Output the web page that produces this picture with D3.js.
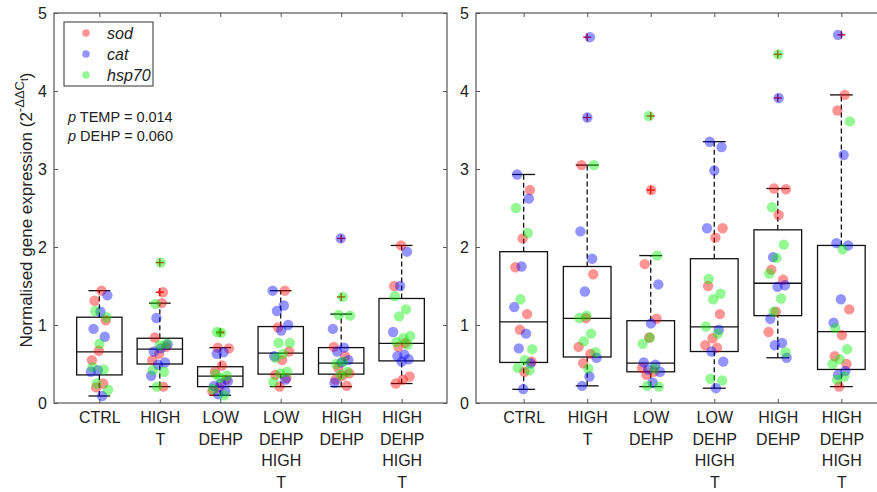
<!DOCTYPE html>
<html>
<head>
<meta charset="utf-8">
<script src="https://cdn.jsdelivr.net/npm/d3@7"></script>
<style>
  html, body { margin: 0; padding: 0; background: #fff; }
  svg { display: block; font-family: Arial, "Liberation Sans", sans-serif; }
</style>
</head>
<body>
<svg id="chart" width="877" height="492"></svg>
<script>
// Treatment groups (x axis), one box per group
const categories = ["CTRL", "HIGH T", "LOW DEHP", "LOW DEHP HIGH T", "HIGH DEHP", "HIGH DEHP HIGH T"];
const genes = ["sod", "cat", "hsp70"];
const yTicks = [0, 1, 2, 3, 4, 5];

// Left panel: expression values per group
const leftSod = [
  [1.44, 1.31, 1.06, 0.67, 0.55, 0.25, 0.20],
  [1.42, 1.28, 0.84, 0.72, 0.63, 0.55, 0.21],
  [0.71, 0.70, 0.48, 0.40, 0.30, 0.20, 0.15],
  [1.44, 0.97, 0.66, 0.55, 0.36, 0.32, 0.21],
  [0.72, 0.60, 0.45, 0.38, 0.35, 0.30, 0.22],
  [2.02, 1.50, 0.77, 0.72, 0.34, 0.30, 0.25]
];
const leftCat = [
  [1.38, 1.17, 0.95, 0.85, 0.42, 0.40, 0.09],
  [1.09, 0.75, 0.70, 0.66, 0.52, 0.49, 0.35],
  [0.65, 0.63, 0.28, 0.25, 0.22, 0.15, 0.11],
  [1.44, 1.25, 1.18, 1.00, 0.93, 0.60, 0.30],
  [2.11, 0.95, 0.71, 0.66, 0.55, 0.52, 0.26],
  [1.94, 1.50, 0.91, 0.62, 0.60, 0.56, 0.53]
];
const leftHsp70 = [
  [1.18, 1.10, 0.76, 0.46, 0.43, 0.25, 0.17],
  [1.80, 1.27, 0.76, 0.74, 0.42, 0.40, 0.21],
  [0.91, 0.90, 0.37, 0.35, 0.32, 0.18, 0.10],
  [0.77, 0.77, 0.63, 0.58, 0.40, 0.38, 0.27],
  [1.36, 1.13, 1.12, 0.53, 0.50, 0.40, 0.36],
  [1.37, 1.20, 1.11, 0.86, 0.83, 0.78, 0.75]
];
// Left panel box statistics
const leftWhiskerHi = [1.44, 1.28, 0.71, 1.44, 1.14, 2.02];
const leftQ3 = [1.10, 0.83, 0.465, 0.98, 0.71, 1.34];
const leftMedian = [0.655, 0.69, 0.345, 0.64, 0.51, 0.765];
const leftQ1 = [0.36, 0.50, 0.21, 0.37, 0.37, 0.54];
const leftWhiskerLo = [0.09, 0.21, 0.10, 0.21, 0.21, 0.25];

// Right panel: expression values per group
const rightSod = [
  [2.73, 2.11, 1.74, 1.14, 0.94, 0.53, 0.40],
  [3.05, 1.65, 1.09, 0.72, 0.63, 0.51],
  [2.73, 1.78, 1.08, 0.84, 0.45, 0.40, 0.36],
  [2.24, 2.12, 1.50, 1.14, 0.83, 0.74, 0.71],
  [2.75, 2.74, 2.41, 1.71, 1.58, 1.17, 0.91],
  [3.95, 3.75, 1.20, 0.87, 0.60, 0.50, 0.21]
];
const rightCat = [
  [2.93, 2.62, 1.75, 1.23, 0.89, 0.70, 0.51, 0.18],
  [4.69, 3.66, 2.20, 1.85, 1.43, 0.58, 0.34, 0.22],
  [1.52, 1.02, 0.52, 0.49, 0.43, 0.40, 0.26],
  [3.35, 3.28, 2.98, 2.24, 0.94, 0.66, 0.53, 0.19],
  [3.91, 1.87, 1.51, 1.49, 1.08, 0.77, 0.74, 0.58],
  [4.72, 3.18, 2.05, 2.02, 1.33, 1.03, 0.41, 0.36]
];
const rightHsp70 = [
  [2.50, 2.18, 1.33, 0.69, 0.55, 0.45, 0.42],
  [3.05, 1.12, 1.09, 0.89, 0.79, 0.65, 0.44],
  [3.68, 1.89, 0.84, 0.76, 0.44, 0.22, 0.21],
  [1.59, 1.40, 1.33, 0.98, 0.89, 0.31, 0.29],
  [4.47, 2.51, 2.03, 1.86, 1.66, 1.34, 1.17, 0.65],
  [3.61, 1.97, 0.96, 0.69, 0.56, 0.50, 0.34, 0.30]
];
// Right panel box statistics
const rightWhiskerHi = [2.93, 3.05, 1.89, 3.35, 2.75, 3.95];
const rightQ3 = [1.94, 1.75, 1.055, 1.85, 2.22, 2.02];
const rightMedian = [1.04, 1.085, 0.51, 0.975, 1.535, 0.915];
const rightQ1 = [0.52, 0.59, 0.40, 0.66, 1.12, 0.43];
const rightWhiskerLo = [0.175, 0.22, 0.21, 0.19, 0.58, 0.21];

const geneColors = { sod: "#ff0000", cat: "#0000ff", hsp70: "#00ee00" };
const dotOpacity = 0.42;

const svg = d3.select("#chart");
const fontStack = 'Arial, "Liberation Sans", sans-serif';
const axisColor = "#555";

const y = d3.scaleLinear().domain([0, 5]).range([403, 13]);

const panels = [
  { x0: 54, x1: 447, genes: [leftSod, leftCat, leftHsp70],
    hi: leftWhiskerHi, q3: leftQ3, med: leftMedian, q1: leftQ1, lo: leftWhiskerLo },
  { x0: 476, x1: 889, genes: [rightSod, rightCat, rightHsp70],
    hi: rightWhiskerHi, q3: rightQ3, med: rightMedian, q1: rightQ1, lo: rightWhiskerLo }
];

function drawPanel(p, pi) {
  const x = d3.scaleLinear().domain([0.25, 6.75]).range([p.x0, p.x1]);
  const unit = x(1) - x(0);
  const g = svg.append("g");

  // frame
  g.append("rect")
    .attr("x", p.x0).attr("y", y(5))
    .attr("width", p.x1 - p.x0).attr("height", y(0) - y(5))
    .attr("fill", "none").attr("stroke", axisColor).attr("stroke-width", 1.2);

  // y axis (ticks pointing inward)
  const yAxis = g.append("g").attr("transform", `translate(${p.x0},0)`)
    .call(d3.axisLeft(y).tickValues(yTicks).tickFormat(d3.format("d"))
      .tickSize(-4).tickSizeOuter(0).tickPadding(7));
  yAxis.select(".domain").remove();
  yAxis.selectAll("line").attr("stroke", axisColor);
  yAxis.selectAll("text").attr("font-size", 16).attr("font-family", fontStack).attr("fill", "#222");

  const yAxisR = g.append("g").attr("transform", `translate(${p.x1},0)`)
    .call(d3.axisRight(y).tickValues(yTicks).tickFormat("").tickSize(-4).tickSizeOuter(0));
  yAxisR.select(".domain").remove();
  yAxisR.selectAll("line").attr("stroke", axisColor);

  // x axis with multi-line group labels
  const xAxis = g.append("g").attr("transform", `translate(0,${y(0)})`)
    .call(d3.axisBottom(x).tickValues([1, 2, 3, 4, 5, 6])
      .tickFormat(d => categories[d - 1]).tickSize(-4).tickSizeOuter(0).tickPadding(8));
  xAxis.select(".domain").remove();
  xAxis.selectAll("line").attr("stroke", axisColor);
  xAxis.selectAll("text").each(function (d) {
    const t = d3.select(this).text("").attr("font-size", 16)
      .attr("font-family", fontStack).attr("fill", "#222").attr("dy", null).attr("y", 0);
    categories[d - 1].split(" ").forEach((w, i) => {
      t.append("tspan").attr("x", 0).attr("y", 20 + i * 21.7).text(w);
    });
  });

  const xAxisT = g.append("g").attr("transform", `translate(0,${y(5)})`)
    .call(d3.axisTop(x).tickValues([1, 2, 3, 4, 5, 6]).tickFormat("").tickSize(-4).tickSizeOuter(0));
  xAxisT.select(".domain").remove();
  xAxisT.selectAll("line").attr("stroke", axisColor);

  // box elements
  const idx = d3.range(categories.length);
  const halfBox = 0.375 * unit, halfCap = 0.18 * unit;

  g.selectAll(".box").data(idx).join("rect")
    .attr("x", i => x(i + 1) - halfBox).attr("width", 2 * halfBox)
    .attr("y", i => y(p.q3[i])).attr("height", i => y(p.q1[i]) - y(p.q3[i]))
    .attr("fill", "none").attr("stroke", "#111").attr("stroke-width", 1.3);

  g.selectAll(".median").data(idx).join("line")
    .attr("x1", i => x(i + 1) - halfBox).attr("x2", i => x(i + 1) + halfBox)
    .attr("y1", i => y(p.med[i])).attr("y2", i => y(p.med[i]))
    .attr("stroke", "#111").attr("stroke-width", 1.3);

  const whisk = [];
  idx.forEach(i => {
    whisk.push({ i, a: p.q3[i], b: p.hi[i] });
    whisk.push({ i, a: p.lo[i], b: p.q1[i] });
  });
  g.selectAll(".whisker").data(whisk).join("line")
    .attr("x1", d => x(d.i + 1)).attr("x2", d => x(d.i + 1))
    .attr("y1", d => y(d.a)).attr("y2", d => y(d.b))
    .attr("stroke", "#111").attr("stroke-width", 1.3).attr("stroke-dasharray", "5,3");

  const caps = [];
  idx.forEach(i => { caps.push({ i, v: p.hi[i] }); caps.push({ i, v: p.lo[i] }); });
  g.selectAll(".cap").data(caps).join("line")
    .attr("x1", d => x(d.i + 1) - halfCap).attr("x2", d => x(d.i + 1) + halfCap)
    .attr("y1", d => y(d.v)).attr("y2", d => y(d.v))
    .attr("stroke", "#111").attr("stroke-width", 1.3);

  // pooled points per group, with deterministic horizontal spread
  const isOutlier = d => d.v > p.hi[d.i] + 0.005 || d.v < p.lo[d.i] - 0.005;
  const points = [];
  idx.forEach(i => {
    let k = 0;
    genes.forEach((gene, gi) => {
      p.genes[gi][i].forEach(v => {
        const frac = (((k + 1) * 0.6180339887 + i * 0.37 + pi * 0.21) % 1) - 0.5;
        const pt = { i, gene, v, off: frac * 0.3 };
        if (isOutlier(pt)) pt.off *= 0.35;
        points.push(pt);
        k++;
      });
    });
  });

  // outliers: '+' markers at the group centre, under the dots
  const outliers = points.filter(isOutlier);
  const plus = g.selectAll(".outlier").data(outliers).join("g")
    .attr("transform", d => `translate(${x(d.i + 1)},${y(d.v)})`);
  plus.append("line").attr("x1", -4).attr("x2", 4).attr("stroke", "#e00000").attr("stroke-width", 1.3);
  plus.append("line").attr("y1", -4).attr("y2", 4).attr("stroke", "#e00000").attr("stroke-width", 1.3);

  g.selectAll(".dot").data(points).join("circle")
    .attr("cx", d => x(d.i + 1 + d.off)).attr("cy", d => y(d.v)).attr("r", 5.2)
    .attr("fill", d => geneColors[d.gene]).attr("fill-opacity", dotOpacity);
}

panels.forEach(drawPanel);

// legend
const legend = svg.append("g");
legend.append("rect").attr("x", 64).attr("y", 22).attr("width", 89).attr("height", 64)
  .attr("fill", "#fff").attr("stroke", "#444").attr("stroke-width", 1.1);
genes.forEach((gene, i) => {
  const cy = 33 + i * 21;
  legend.append("circle").attr("cx", 86).attr("cy", cy).attr("r", 3.8)
    .attr("fill", geneColors[gene]).attr("fill-opacity", dotOpacity);
  legend.append("text").attr("x", 107).attr("y", cy + 5.5).attr("font-size", 16)
    .attr("font-style", "italic").attr("font-family", fontStack).attr("fill", "#222").text(gene);
});

// statistics annotation
const stats = [["TEMP", "0.014"], ["DEHP", "0.060"]];
stats.forEach((s, i) => {
  const t = svg.append("text").attr("x", 68).attr("y", 122 + i * 18.5)
    .attr("font-size", 14.5).attr("font-family", fontStack).attr("fill", "#222");
  t.append("tspan").attr("font-style", "italic").text("p");
  t.append("tspan").text(` ${s[0]} = ${s[1]}`);
});

// y-axis title with superscript exponent
const yt = svg.append("text")
  .attr("transform", `translate(32,${(y(0) + y(5)) / 2 + 2}) rotate(-90)`)
  .attr("text-anchor", "middle").attr("font-size", 17).attr("font-family", fontStack).attr("fill", "#222");
yt.append("tspan").text("Normalised gene expression (2");
yt.append("tspan").attr("font-size", 13).attr("dy", -8).text("-ΔΔC");
yt.append("tspan").attr("font-size", 10).attr("dy", 3.5).text("t");
yt.append("tspan").attr("font-size", 17).attr("dy", 4.5).text(")");
</script>
</body>
</html>
